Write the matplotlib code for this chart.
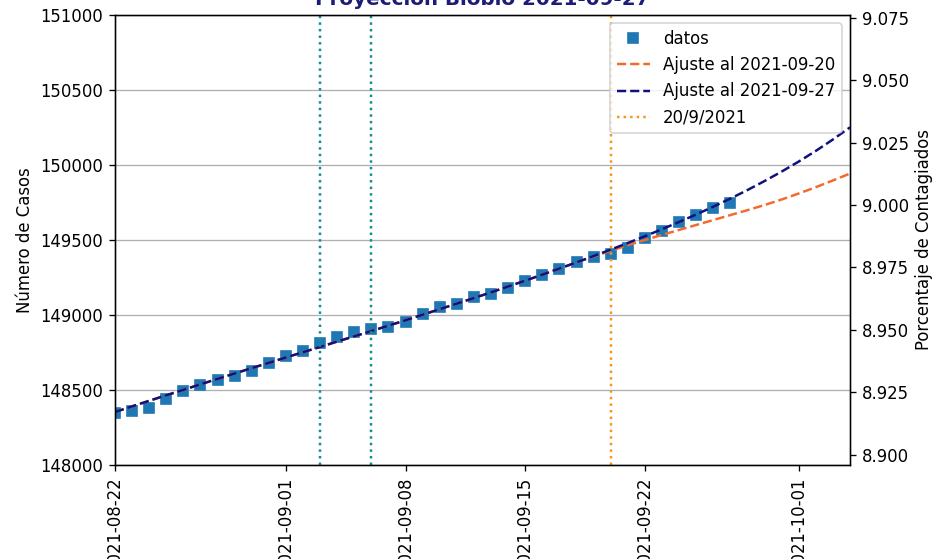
import numpy as np
import matplotlib
matplotlib.use("Agg")
import matplotlib.pyplot as plt
import matplotlib.dates as mdates
from matplotlib.ticker import MultipleLocator, FormatStrFormatter

# ---- data ----
fecha_inicio = "2021-08-22"
fecha_fin_eje = "2021-10-04"
poblacion = 1663696

casos = [148347, 148360, 148380, 148443, 148490, 148535, 148567, 148593, 148627,
         148682, 148727, 148758, 148811, 148855, 148885, 148909, 148918, 148950,
         149007, 149052, 149076, 149117, 149140, 149178, 149228, 149267, 149304,
         149354, 149386, 149408, 149448, 149516, 149560, 149621, 149665, 149710,
         149745]

ajuste_0927 = [148353, 148391, 148428, 148465, 148501, 148538, 148574, 148610,
               148646, 148681, 148717, 148752, 148787, 148823, 148858, 148893,
               148929, 148965, 149002, 149039, 149076, 149113, 149151, 149190,
               149229, 149269, 149310, 149351, 149393, 149436, 149480, 149525,
               149572, 149620, 149670, 149722, 149776, 149833, 149893, 149956,
               150023, 150094, 150170, 150251]

ajuste_0920 = [148353, 148391, 148428, 148465, 148501, 148538, 148574, 148610,
               148646, 148681, 148717, 148752, 148787, 148823, 148858, 148893,
               148929, 148965, 149002, 149039, 149076, 149113, 149151, 149190,
               149229, 149269, 149310, 149350, 149390, 149428, 149465, 149500,
               149534, 149567, 149600, 149633, 149666, 149699, 149733, 149770,
               149810, 149852, 149897, 149943]

lineas_teal = ["2021-09-03", "2021-09-06"]
linea_naranja = "2021-09-20"

ylim_casos = (148000, 151000)

# ---- figure ----
fig = plt.figure(figsize=(932 / 119, 559 / 119), dpi=119)
ax = fig.add_axes([115 / 932, 1 - 465 / 559, 735 / 932, 450 / 559])

d0 = np.datetime64(fecha_inicio)
dias_datos = d0 + np.arange(len(casos))
dias_ajuste = d0 + np.arange(len(ajuste_0927))

ax.plot(dias_datos, casos, "s", color="#1f77b4", markersize=5.5, label="datos")
ax.plot(dias_ajuste, ajuste_0920, "--", color="#f26a2e", label="Ajuste al 2021-09-20")
ax.plot(dias_ajuste, ajuste_0927, "--", color="#10107e", label="Ajuste al 2021-09-27")
ax.axvline(np.datetime64(linea_naranja), color="#f5961f", linestyle=":", label="20/9/2021")
for f in lineas_teal:
    ax.axvline(np.datetime64(f), color="#138f8f", linestyle=":")

ax.set_xlim(d0, np.datetime64(fecha_fin_eje))
ax.set_ylim(*ylim_casos)
ax.yaxis.set_major_locator(MultipleLocator(500))
ax.grid(axis="y", color="#b0b0b0")
ax.xaxis.set_major_locator(mdates.DayLocator(bymonthday=[1, 8, 15, 22]))
ax.xaxis.set_major_formatter(mdates.DateFormatter("%Y-%m-%d"))
plt.setp(ax.get_xticklabels(), rotation=90)
ax.set_ylabel("Número de Casos")
ax.set_title("Proyección Biobío 2021-09-27", fontweight="bold", color="#1c1c78", fontsize=12)

ax2 = ax.twinx()
ax2.set_ylim(ylim_casos[0] / poblacion * 100, ylim_casos[1] / poblacion * 100)
ax2.yaxis.set_major_locator(MultipleLocator(0.025))
ax2.yaxis.set_major_formatter(FormatStrFormatter("%.3f"))
ax2.set_ylabel("Porcentaje de Contagiados")

ax.legend(loc="upper right")

fig.savefig("out.png", dpi=119)
